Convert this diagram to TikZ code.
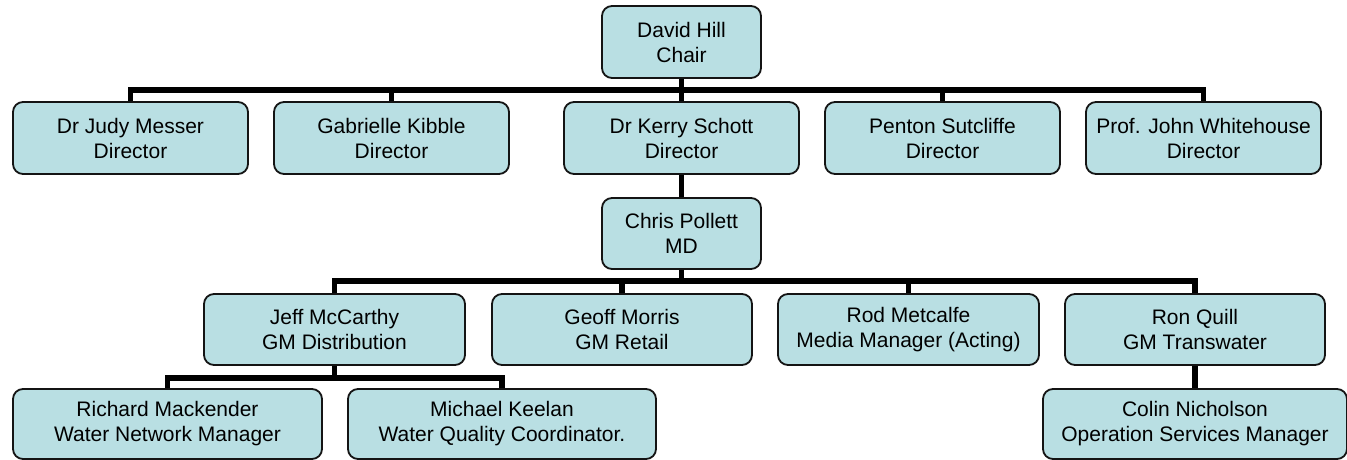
\documentclass[tikz,border=0pt]{standalone}
\usepackage{fontspec}
\setmainfont{Liberation Sans}
\definecolor{boxfill}{RGB}{185,223,227}
\definecolor{boxline}{RGB}{20,20,20}
\begin{document}
\begin{tikzpicture}[x=1pt,y=-1pt,
  person/.style={draw=boxline, line width=1.8pt, fill=boxfill, rounded corners=10pt,
    align=center, inner sep=0pt, font=\fontsize{21}{25}\selectfont, text=black},
  conn/.style={line width=5.5pt, black, line join=miter}]
\useasboundingbox (0,0) rectangle (1347,460);
\coordinate (b1) at (0,90);
\coordinate (b2) at (0,281);
\coordinate (b3) at (0,378);
% nodes
\node[person, minimum width=159pt, minimum height=72pt] (chair) at (681.5,42) {David Hill\\Chair};
\node[person, minimum width=235pt, minimum height=72pt] (judy) at (130.5,138) {Dr Judy Messer\\Director};
\node[person, minimum width=235pt, minimum height=72pt] (gab) at (391.5,138) {Gabrielle Kibble\\Director};
\node[person, minimum width=235pt, minimum height=72pt] (kerry) at (681.5,138) {Dr Kerry Schott\\Director};
\node[person, minimum width=235pt, minimum height=72pt] (penton) at (942.5,138) {Penton Sutcliffe\\Director};
\node[person, minimum width=235pt, minimum height=72pt] (white) at (1203.5,138) {Prof. John Whitehouse\\Director};
\node[person, minimum width=159pt, minimum height=71pt] (chris) at (681.5,233.5) {Chris Pollett\\MD};
\node[person, minimum width=261pt, minimum height=71pt] (jeff) at (334.5,329.5) {Jeff McCarthy\\GM Distribution};
\node[person, minimum width=260pt, minimum height=71pt] (geoff) at (622,329.5) {Geoff Morris\\GM Retail};
\node[person, minimum width=261pt, minimum height=71pt] (rod) at (908.5,329.5) {Rod Metcalfe\\Media Manager (Acting)};
\node[person, minimum width=260pt, minimum height=71pt] (ron) at (1195,329.5) {Ron Quill\\GM Transwater};
\node[person, minimum width=309pt, minimum height=70pt] (richard) at (167.5,424) {Richard Mackender\\Water Network Manager};
\node[person, minimum width=308pt, minimum height=70pt] (michael) at (502,424) {Michael Keelan\\Water Quality Coordinator.};
\node[person, minimum width=304pt, minimum height=70pt] (colin) at (1195,424) {Colin Nicholson\\Operation Services Manager};
% connectors
\draw[conn] (chair.south) -- (kerry.north);
\draw[conn] (judy.north) -- (judy.north |- b1) -- (white.north |- b1) -- (white.north);
\draw[conn] (gab.north) -- (gab.north |- b1);
\draw[conn] (penton.north) -- (penton.north |- b1);
\draw[conn] (kerry.south) -- (chris.north);
\draw[conn] (chris.south) -- (chris.south |- b2);
\draw[conn] (jeff.north) -- (jeff.north |- b2) -- (ron.north |- b2) -- (ron.north);
\draw[conn] (geoff.north) -- (geoff.north |- b2);
\draw[conn] (rod.north) -- (rod.north |- b2);
\draw[conn] (jeff.south) -- (jeff.south |- b3);
\draw[conn] (richard.north) -- (richard.north |- b3) -- (michael.north |- b3) -- (michael.north);
\draw[conn] (ron.south) -- (colin.north);
\end{tikzpicture}
\end{document}
